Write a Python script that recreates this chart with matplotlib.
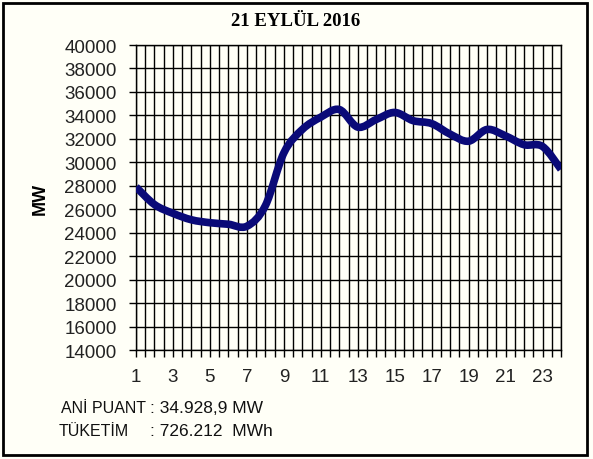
import numpy as np
import matplotlib
matplotlib.use("Agg")
import matplotlib.pyplot as plt
from matplotlib.patches import Rectangle, PathPatch
from matplotlib.path import Path

# hourly load, 21 September 2016 (MW)
hours = list(range(1, 25))
load_mw = [27900, 26400, 25650, 25100, 24850, 24720, 24550, 26300,
           30800, 32800, 33850, 34500, 33000, 33650, 34250, 33550,
           33300, 32400, 31800, 32800, 32250, 31500, 31350, 29400]

x_ticks = list(range(1, 25, 2))
y_ticks = list(range(14000, 40001, 2000))

title = "21 EYLÜL 2016"
info_labels = ["ANİ PUANT", "TÜKETİM"]
info_values = [": 34.928,9 MW", ": 726.212  MWh"]

bg = "#FFFFF7"
line_col = "#0A0A78"


def smooth_path(xs, ys, t=1 / 6):
    # excel-like smoothed line: bezier segments through the data points
    pts = np.column_stack([xs, ys]).astype(float)
    verts = [pts[0]]
    codes = [Path.MOVETO]
    n = len(pts)
    for i in range(n - 1):
        p0 = pts[max(i - 1, 0)]
        p1 = pts[i]
        p2 = pts[i + 1]
        p3 = pts[min(i + 2, n - 1)]
        c1 = p1 + (p2 - p0) * t
        c2 = p2 - (p3 - p1) * t
        verts += [c1, c2, p2]
        codes += [Path.CURVE4] * 3
    return Path(verts, codes)


fig = plt.figure(figsize=(5.93, 4.60), dpi=100, facecolor=bg)
W, H = 593, 460
# plot area in pixels: x 136..561, y 46..351
ax = fig.add_axes([136 / W, 1 - 351 / H, (561 - 136) / W, (351 - 46) / H])
ax.set_facecolor(bg)

ax.add_patch(PathPatch(smooth_path(hours, load_mw), facecolor="none",
                       edgecolor=line_col, lw=5.5, capstyle="butt",
                       joinstyle="round", zorder=3))

ax.set_xlim(1, 24)
ax.set_ylim(14000, 40000)

ax.set_xticks(x_ticks)
ax.set_xticks(np.arange(1, 24.01, 0.5), minor=True)
ax.set_yticks(y_ticks)
ax.set_yticklabels([str(v) for v in y_ticks])

ax.grid(which="major", axis="y", color="black", lw=1)
ax.grid(which="both", axis="x", color="black", lw=1)

for s in ax.spines.values():
    s.set_color("black")
    s.set_linewidth(1)

ax.tick_params(axis="both", which="both", direction="out", length=5,
               width=1, color="black", labelsize=13.5, labelcolor="#222222")
ax.tick_params(axis="x", which="major", pad=8)
ax.tick_params(axis="y", which="major", pad=9)
for lab in ax.get_xticklabels() + ax.get_yticklabels():
    lab.set_family("Liberation Sans")

ax.set_ylabel("MW", family="Liberation Sans", fontweight="bold",
              fontsize=13, labelpad=11)

fig.text(296 / W, 1 - 21 / H, title, family="Liberation Serif",
         fontweight="bold", fontsize=13.5, ha="center", va="center")

for i, (lab, val) in enumerate(zip(info_labels, info_values)):
    y = 1 - (409 + i * 23) / H
    fig.text((61 - 2 * i) / W, y, lab, family="Liberation Sans",
             fontsize=11.5, ha="left", va="center", color="#111111")
    fig.text(150 / W, y, val, family="Liberation Sans",
             fontsize=12.5, ha="left", va="center", color="#111111")

# outer frame
fig.patches.append(Rectangle((3 / W, 4 / H), (587 - 3) / W, (456 - 4) / H,
                             transform=fig.transFigure, fill=False,
                             edgecolor="black", lw=2))

fig.savefig("out.png", dpi=100, facecolor=bg)
